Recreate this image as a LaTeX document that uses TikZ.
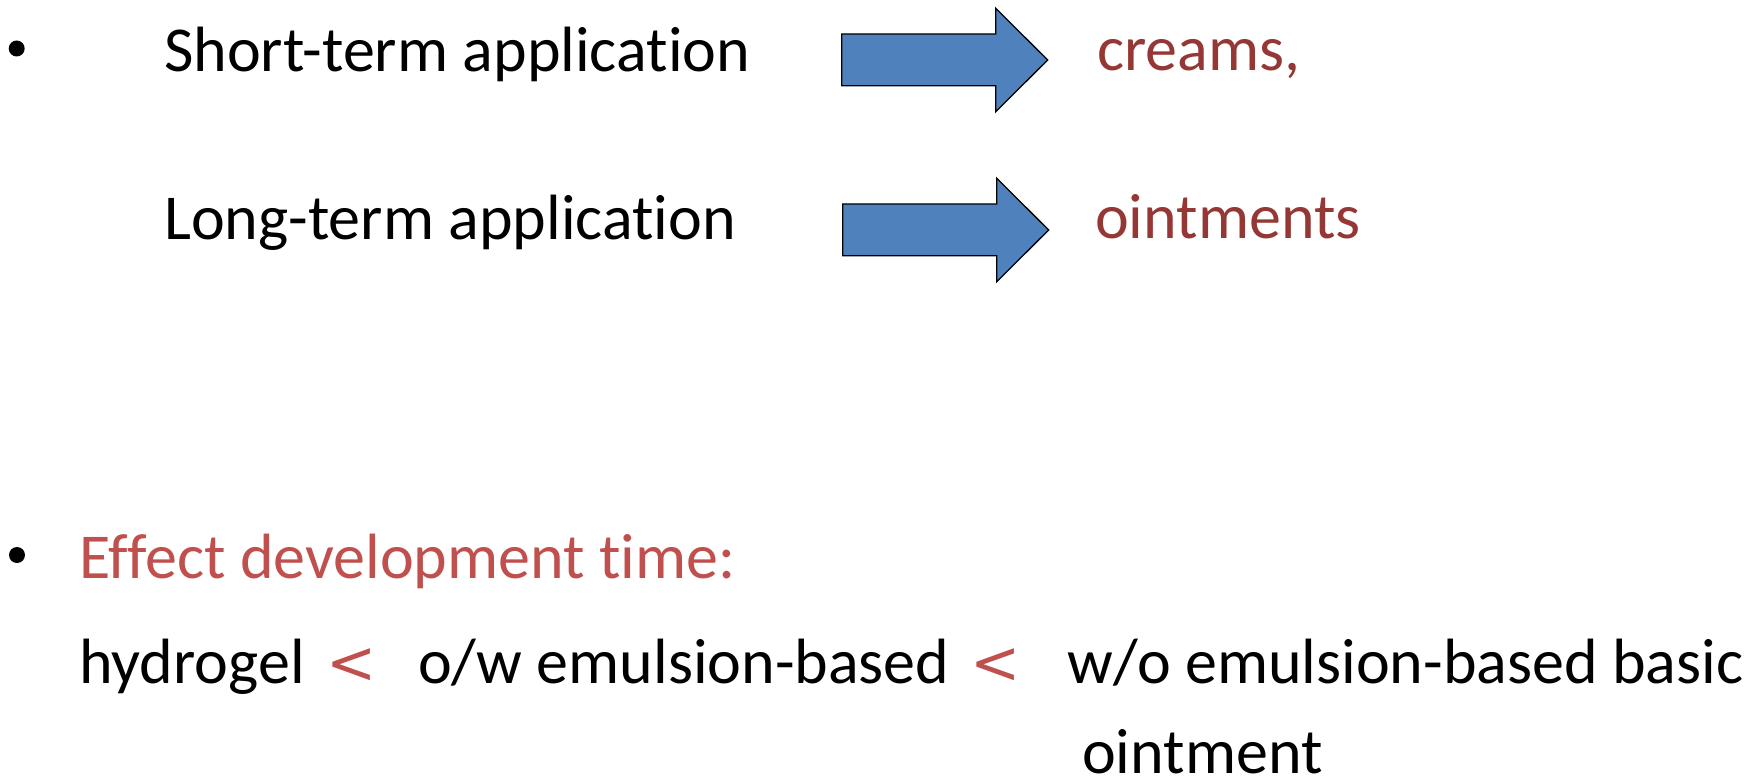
\documentclass[tikz,border=0pt]{standalone}
\usepackage{fontspec}
\setmainfont{Carlito}[Ligatures={NoCommon,TeX}]
\newfontfamily\ltfont{DejaVu Sans}
\definecolor{darkred}{HTML}{953735}
\definecolor{accred}{HTML}{C0504D}
\definecolor{arrblue}{HTML}{4F81BD}
\begin{document}
\begin{tikzpicture}[x=1pt,y=-1pt,
  txt/.style={anchor=base west, inner sep=0pt, font=\fontsize{64}{77}\selectfont},
  lessthan/.style={anchor=base west, inner sep=0pt, text=accred, font=\ltfont\fontsize{60}{72}\selectfont},
  bigarrow/.style={fill=arrblue, draw=black, line width=1.3pt, line join=miter},
  bulletdot/.style={circle, fill=black, minimum size=16pt, inner sep=0pt}]
\useasboundingbox (0,0) rectangle (1762,778);
% bullets
\node[bulletdot] (b1) at (16.7,48.5) {};
\node[bulletdot] (b2) at (17,555) {};
% first block
\node[txt] (short) at (164,72) {Short-term application};
\node[txt] (long) at (164,240) {Long-term application};
\node[txt, text=darkred] (creams) at (1097,71) {creams,};
\node[txt, text=darkred] (oint) at (1095,238.5) {ointments};
% arrows
\draw[bigarrow] (841.7,34) -- (995.7,34) -- (995.7,8.3) -- (1047.7,60) -- (995.7,111.7) -- (995.7,85.7) -- (841.7,85.7) -- cycle;
\draw[bigarrow] (842.7,204) -- (996.7,204) -- (996.7,178.3) -- (1048.7,230) -- (996.7,281.7) -- (996.7,255.7) -- (842.7,255.7) -- cycle;
% second block
\node[txt, text=accred] (effect) at (79,578.5) {Effect development time:};
\node[txt] (hydro) at (79,683) {hydrogel};
\node[lessthan] (lt1) at (326,683) {<};
\node[txt] (ow) at (418,683) {o/w emulsion-based};
\node[lessthan] (lt2) at (970,683) {<};
\node[txt] (wo) at (1067.5,683) {w/o emulsion-based basic};
\node[txt] (ointm) at (1082,773) {ointment};
\end{tikzpicture}
\end{document}
